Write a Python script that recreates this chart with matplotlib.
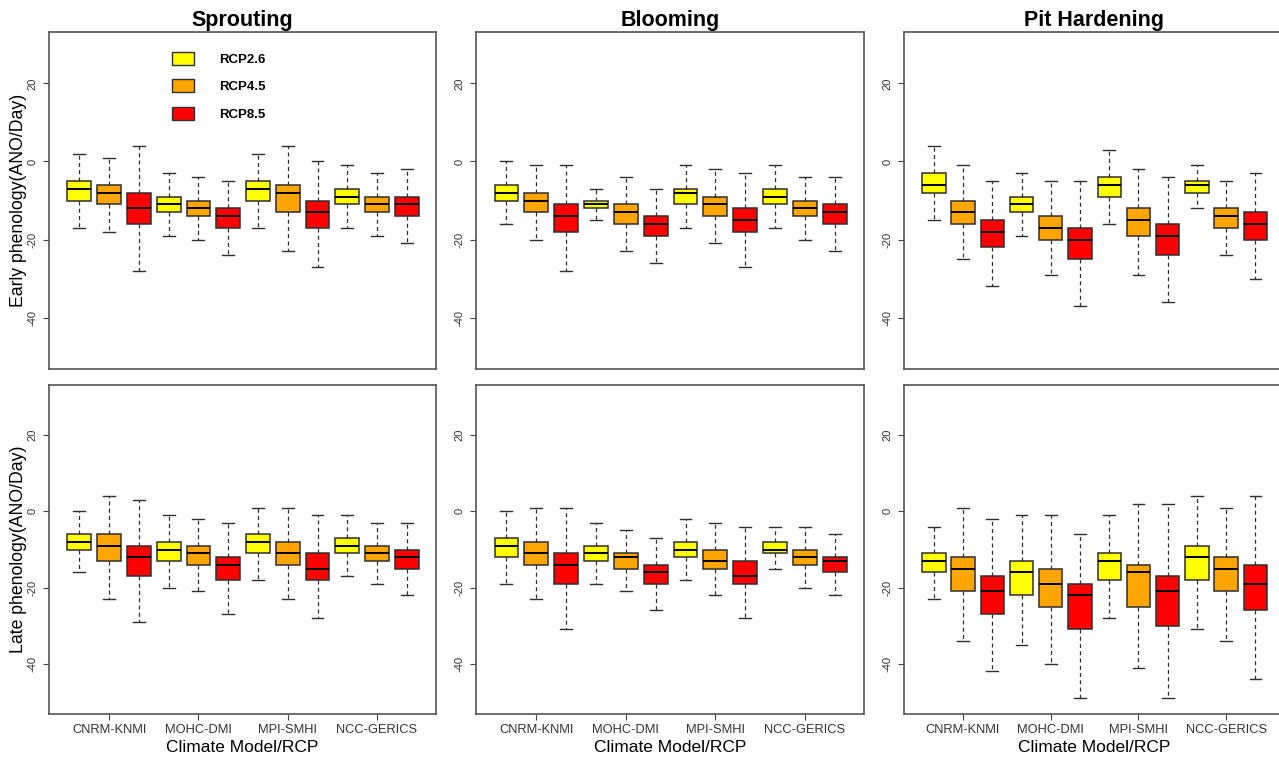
import matplotlib.pyplot as plt
from matplotlib.patches import Patch

plt.rcParams['font.family'] = ['Liberation Sans', 'DejaVu Sans']
plt.rcParams['axes.unicode_minus'] = False

models = ['CNRM-KNMI', 'MOHC-DMI', 'MPI-SMHI', 'NCC-GERICS']
scenarios = ['RCP2.6', 'RCP4.5', 'RCP8.5']
colors = ['#FFFF00', '#FFA500', '#FF0000']
stages = ['Sprouting', 'Blooming', 'Pit Hardening']
row_labels = ['Early phenology(ANO/Day)', 'Late phenology(ANO/Day)']

# one row per box: lower whisker, Q1, median, Q3, upper whisker (days)
# boxes go model by model, RCP2.6 / RCP4.5 / RCP8.5 within each model
sprouting_early = [[-17, -10, -7, -5, 2], [-18, -11, -8, -6, 1], [-28, -16, -12, -8, 4],
                   [-19, -13, -11, -9, -3], [-20, -14, -12, -10, -4], [-24, -17, -14, -12, -5],
                   [-17, -10, -7, -5, 2], [-23, -13, -8, -6, 4], [-27, -17, -13, -10, 0],
                   [-17, -11, -9, -7, -1], [-19, -13, -11, -9, -3], [-21, -14, -11, -9, -2]]
blooming_early = [[-16, -10, -8, -6, 0], [-20, -13, -10, -8, -1], [-28, -18, -14, -11, -1],
                  [-15, -12, -11, -10, -7], [-23, -16, -13, -11, -4], [-26, -19, -16, -14, -7],
                  [-17, -11, -8, -7, -1], [-21, -14, -11, -9, -2], [-27, -18, -15, -12, -3],
                  [-17, -11, -9, -7, -1], [-20, -14, -12, -10, -4], [-23, -16, -13, -11, -4]]
pit_early = [[-15, -8, -6, -3, 4], [-25, -16, -13, -10, -1], [-32, -22, -18, -15, -5],
             [-19, -13, -11, -9, -3], [-29, -20, -17, -14, -5], [-37, -25, -20, -17, -5],
             [-16, -9, -6, -4, 3], [-29, -19, -15, -12, -2], [-36, -24, -19, -16, -4],
             [-12, -8, -6, -5, -1], [-24, -17, -14, -12, -5], [-30, -20, -16, -13, -3]]
sprouting_late = [[-16, -10, -8, -6, 0], [-23, -13, -9, -6, 4], [-29, -17, -12, -9, 3],
                  [-20, -13, -10, -8, -1], [-21, -14, -11, -9, -2], [-27, -18, -14, -12, -3],
                  [-18, -11, -8, -6, 1], [-23, -14, -11, -8, 1], [-28, -18, -15, -11, -1],
                  [-17, -11, -9, -7, -1], [-19, -13, -11, -9, -3], [-22, -15, -12, -10, -3]]
blooming_late = [[-19, -12, -9, -7, 0], [-23, -14, -11, -8, 1], [-31, -19, -14, -11, 1],
                 [-19, -13, -11, -9, -3], [-21, -15, -12, -11, -5], [-26, -19, -16, -14, -7],
                 [-18, -12, -10, -8, -2], [-22, -15, -13, -10, -3], [-28, -19, -17, -13, -4],
                 [-15, -11, -10, -8, -4], [-20, -14, -12, -10, -4], [-22, -16, -13, -12, -6]]
pit_late = [[-23, -16, -13, -11, -4], [-34, -21, -15, -12, 1], [-42, -27, -21, -17, -2],
            [-35, -22, -16, -13, -1], [-40, -25, -19, -15, -1], [-49, -31, -22, -19, -6],
            [-28, -18, -13, -11, -1], [-41, -25, -16, -14, 2], [-49, -30, -21, -17, 2],
            [-31, -18, -12, -9, 4], [-34, -21, -15, -12, 1], [-44, -26, -19, -14, 4]]

panels = [[sprouting_early, blooming_early, pit_early],
          [sprouting_late, blooming_late, pit_late]]

W, H = 1279, 760
fig = plt.figure(figsize=(W / 100, H / 100), dpi=100)

col_left = [49, 476, 904]
col_width = [387, 388, 380]
row_top = [32, 385]
row_height = [337, 329]

edge = '#2e2e2e'
positions = list(range(1, 13))

for r in range(2):
    for c in range(3):
        ax = fig.add_axes([col_left[c] / W, (H - row_top[r] - row_height[r]) / H,
                           col_width[c] / W, row_height[r] / H])
        stats = [dict(whislo=lo, q1=q1, med=md, q3=q3, whishi=hi, fliers=[])
                 for lo, q1, md, q3, hi in panels[r][c]]
        bp = ax.bxp(stats, positions=positions, widths=0.8, patch_artist=True,
                    manage_ticks=False,
                    boxprops=dict(edgecolor=edge, linewidth=1.1),
                    medianprops=dict(color='black', linewidth=1.4),
                    whiskerprops=dict(color=edge, linewidth=0.9, linestyle=(0, (3.2, 2.6))),
                    capprops=dict(color=edge, linewidth=1.0))
        for i, box in enumerate(bp['boxes']):
            box.set_facecolor(colors[i % 3])

        ax.set_xlim(-0.02, 12.98)
        ax.set_ylim(-53.2, 33.2)
        ax.set_yticks([-40, -20, 0, 20])
        ax.set_yticklabels(['-40', '-20', '0', '20'], rotation=90, va='center')
        ax.tick_params(axis='y', length=4.5, width=0.8, color='#444444',
                       labelsize=8, labelcolor='#333333', pad=3.5)
        for s in ax.spines.values():
            s.set_color('#555555')
            s.set_linewidth(1.2)

        if r == 0:
            ax.set_xticks([])
            ax.set_title(stages[c], fontsize=15.5, fontweight='bold', pad=4)
        else:
            ax.set_xticks([2, 5, 8, 11])
            ax.set_xticklabels(models)
            ax.tick_params(axis='x', length=4.5, width=0.8, color='#444444',
                           labelsize=9.3, labelcolor='#333333', pad=3)
            ax.set_xlabel('Climate Model/RCP', fontsize=12.5)
            ax.xaxis.set_label_coords(0.5, -0.079)

        if c == 0:
            ax.set_ylabel(row_labels[r], fontsize=12.7)
            ax.yaxis.set_label_coords(-0.057, 0.5)

        if r == 0 and c == 0:
            handles = [Patch(facecolor=col, edgecolor=edge, linewidth=1.0) for col in colors]
            ax.legend(handles, scenarios, loc='upper left', bbox_to_anchor=(0.318, 0.94),
                      frameon=False, borderpad=0, borderaxespad=0,
                      handlelength=1.64, handleheight=1.14, handletextpad=1.92,
                      labelspacing=1.0, prop=dict(size=9.5, weight='bold'))

fig.savefig('out.png', dpi=100)
